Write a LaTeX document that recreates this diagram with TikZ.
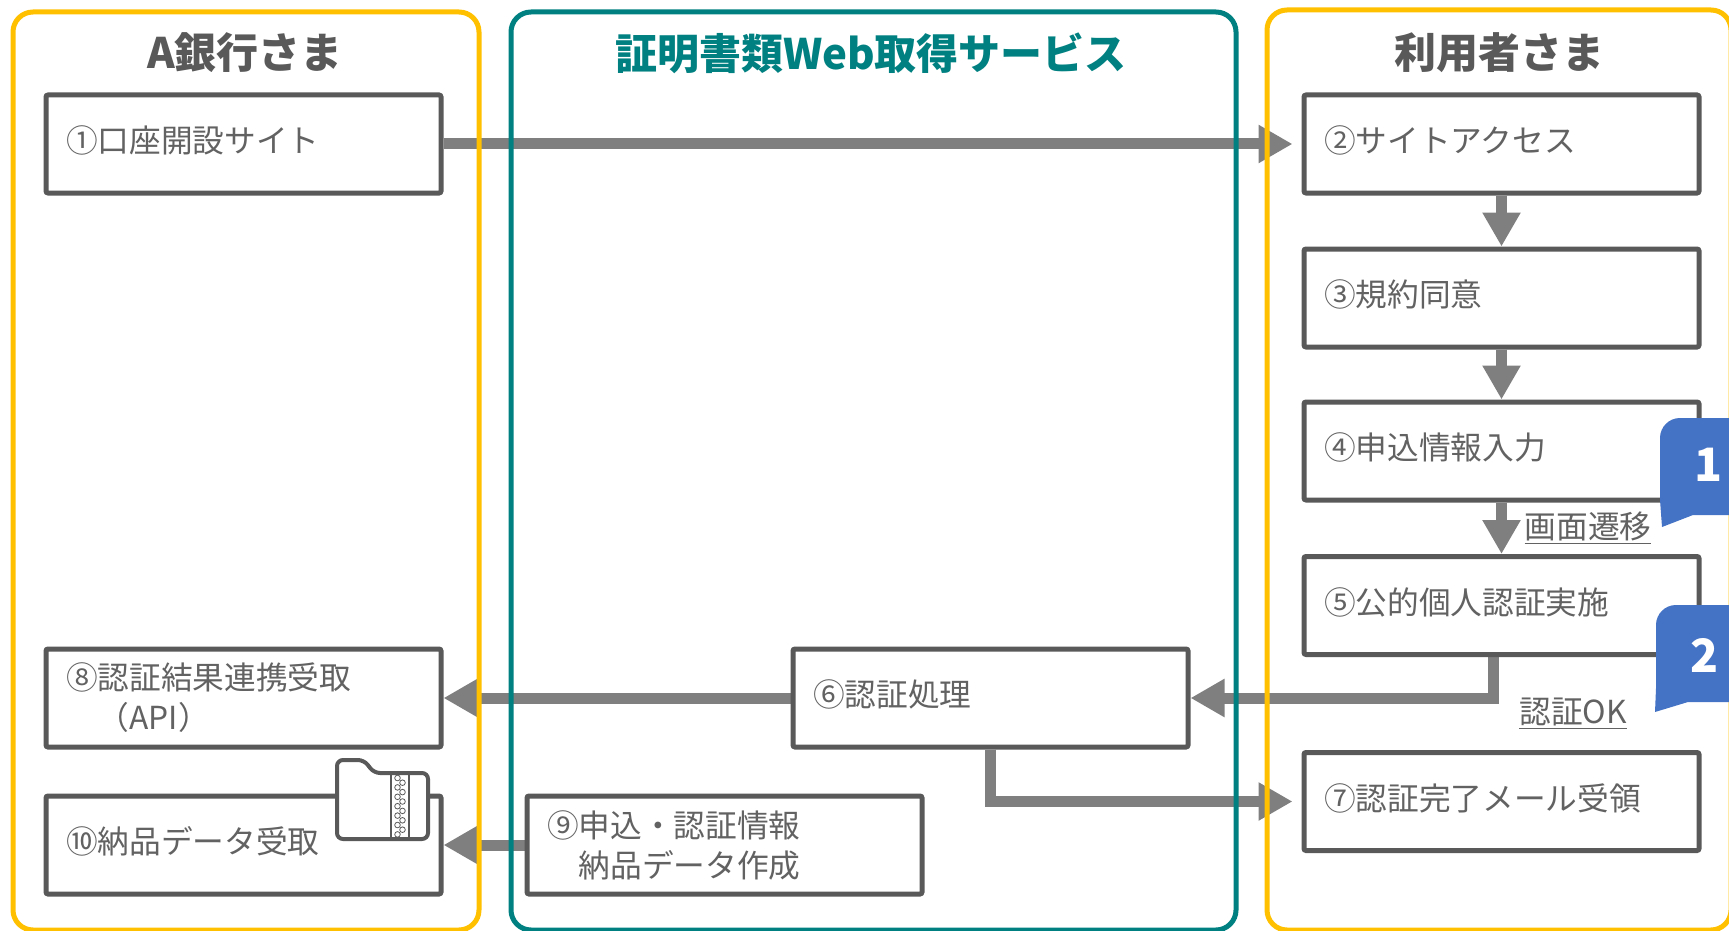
\documentclass[tikz,border=0pt]{standalone}
\usepackage{fontspec}
\newfontfamily\jp{Noto Sans CJK JP}
\usetikzlibrary{arrows.meta}
\definecolor{ylw}{HTML}{FFC000}
\definecolor{tealc}{HTML}{008080}
\definecolor{boxgray}{HTML}{595959}
\definecolor{arrgray}{HTML}{7F7F7F}
\definecolor{txtgray}{HTML}{626262}
\definecolor{callblue}{HTML}{4472C4}
\pgfdeclarelayer{bg}
\pgfsetlayers{bg,main}
\tikzset{
  panel/.style={line width=2.5pt, rounded corners=10pt},
  stepbox/.style={draw=boxgray, line width=2.5pt, fill=white, rounded corners=1pt,
    minimum width=197.5pt, minimum height=49pt, text width=177.5pt,
    inner xsep=10pt, inner ysep=0pt, align=left, text=txtgray,
    font=\jp\fontsize{15.85pt}{20pt}\selectfont},
  oneline/.style={text depth=4.9pt},
  title/.style={font=\jp\bfseries\fontsize{21pt}{24pt}\selectfont, text=boxgray},
  arr/.style={draw=arrgray, line width=5.5pt, -{Triangle[width=18pt,length=17pt]}},
  ulabel/.style={text=txtgray, inner sep=0pt, font=\jp\fontsize{15.85pt}{20pt}\selectfont},
  callnum/.style={text=white, inner sep=0pt, font=\jp\bfseries\fontsize{23pt}{26pt}\selectfont},
  callout/.style={fill=callblue},
  icon/.style={draw=boxgray, line width=2pt, line join=round},
}
\begin{document}
\begin{tikzpicture}[x=0.5pt,y=-0.5pt]
\useasboundingbox (0,0) rectangle (1729,931);
\clip (0,0) rectangle (1729,931);

% steps
\node[stepbox, oneline] (b1) at (243.5,144) {①口座開設サイト};
\node[stepbox, oneline] (b2) at (1501.5,144) {②サイトアクセス};
\node[stepbox, oneline] (b3) at (1501.5,298) {③規約同意};
\node[stepbox, oneline] (b4) at (1501.5,451) {④申込情報入力};
\node[stepbox, oneline] (b5) at (1501.5,605.5) {⑤公的個人認証実施};
\node[stepbox, oneline] (b6) at (990.5,698) {⑥認証処理};
\node[stepbox, oneline] (b7) at (1501.5,801.5) {⑦認証完了メール受領};
\node[stepbox] (b8) at (243.5,698) {⑧認証結果連携受取\\　（API）};
\node[stepbox] (b9) at (724.5,845) {⑨申込・認証情報\\　納品データ作成};
\node[stepbox, oneline] (b10) at (243.5,845) {⑩納品データ受取};

% connectors (behind panels and boxes)
\begin{pgfonlayer}{bg}
\draw[arr, shorten >=4.5pt] (b1.east) -- (b2.west);
\draw[arr] (b2.south) -- (b3.north);
\draw[arr] (b3.south) -- (b4.north);
\draw[arr] (b4.south) -- (b5.north);
\draw[arr] ([xshift=-4.25pt]b5.south) |- (b6.east);
\draw[arr] (b6.west) -- (b8.east);
\draw[arr, shorten >=4.5pt] (b6.south) |- (b7.west);
\draw[arr] (b9.west) -- (b10.east);
\end{pgfonlayer}

% lanes
\draw[panel, ylw] (13,12) rectangle (479,930);
\draw[panel, tealc] (511,12) rectangle (1236,930);
\draw[panel, ylw] (1267,10) rectangle (1731,930);

\node[title] (t1) at (245,53) {A銀行さま};
\node[title, text=tealc] (t2) at (871,53) {証明書類Web取得サービス};
\node[title] (t3) at (1499,53) {利用者さま};

% labels
\node[ulabel] (l1) at (1588,528) {\underline{画面遷移}};
\node[ulabel] (l2) at (1573,714) {\underline{認証OK}};

% callouts
\fill[callout] (1662,527) -- (1693,515) [rounded corners=10pt] -- (1756,515) -- (1756,418) -- (1660,418) [sharp corners] -- (1660,500) -- cycle;
\node[callnum] (c1) at (1708,465) {1};
\fill[callout] (1655,712) -- (1688,702) [rounded corners=10pt] -- (1752,702) -- (1752,605) -- (1656,605) [sharp corners] -- (1656,688) -- cycle;
\node[callnum] (c2) at (1704,655) {2};

% folder icon
\filldraw[icon, fill=white, rounded corners=3pt] (337,760) -- (364,760) -- (374,773) -- (428,773) -- (428,839) -- (337,839) -- cycle;
\draw[icon, line width=1.2pt] (391,773) -- (391,839) (409,773) -- (409,839);
\foreach \j in {0,...,6} {
  \draw[draw=boxgray, line width=0.4pt] (397.5,778+9.4*\j) circle[radius=1.4pt];
}
\foreach \j in {0,...,5} {
  \draw[draw=boxgray, line width=0.4pt] (402.5,782.7+9.4*\j) circle[radius=1.4pt];
}
\end{tikzpicture}
\end{document}
